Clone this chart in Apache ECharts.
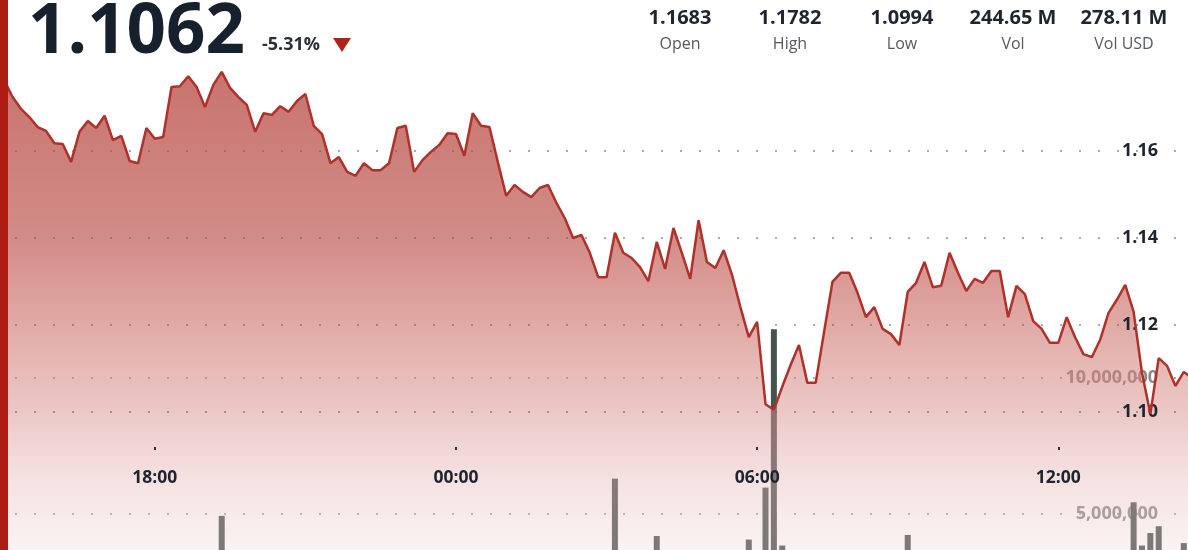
<!DOCTYPE html>
<html>
<head>
<meta charset="utf-8">
<script src="https://cdn.jsdelivr.net/npm/echarts@6/dist/echarts.min.js"></script>
<style>
  html, body { margin: 0; padding: 0; background: #fff; }
  #chart { width: 1188px; height: 550px; }
</style>
</head>
<body>
<div id="chart"></div>
<script>
const FONT = '"Open Sans", "Noto Sans", sans-serif';

// price samples every 10 minutes, first one at 15:00
const STEP_MIN = 10;
const prices = [
  1.1763, 1.1724, 1.1697, 1.1678, 1.1655, 1.1646, 1.1618, 1.1616, 1.1575, 1.1644,
  1.1669, 1.1653, 1.1681, 1.1625, 1.1635, 1.1577, 1.1572, 1.1653, 1.1628, 1.1632,
  1.1747, 1.1749, 1.1772, 1.1747, 1.1701, 1.1752, 1.1782, 1.1745, 1.1724, 1.1706,
  1.1644, 1.1687, 1.1683, 1.1703, 1.1690, 1.1715, 1.1731, 1.1658, 1.1639, 1.1572,
  1.1586, 1.1552, 1.1543, 1.1572, 1.1556, 1.1556, 1.1572, 1.1653, 1.1658, 1.1552,
  1.1579, 1.1598, 1.1614, 1.1641, 1.1639, 1.1589, 1.1687, 1.1658, 1.1655, 1.1575,
  1.1497, 1.1522, 1.1506, 1.1494, 1.1515, 1.1522, 1.1481, 1.1446, 1.1400, 1.1407,
  1.1366, 1.1310, 1.1310, 1.1412, 1.1366, 1.1354, 1.1333, 1.1301, 1.1391, 1.1329,
  1.1423, 1.1366, 1.1306, 1.1441, 1.1345, 1.1331, 1.1372, 1.1315, 1.1241, 1.1172,
  1.1207, 1.1018, 1.1005, 1.1058, 1.1108, 1.1154, 1.1067, 1.1067, 1.1184, 1.1299,
  1.1320, 1.1320, 1.1274, 1.1218, 1.1241, 1.1191, 1.1179, 1.1154, 1.1276, 1.1297,
  1.1345, 1.1287, 1.1290, 1.1366, 1.1320, 1.1278, 1.1306, 1.1297, 1.1324, 1.1324,
  1.1218, 1.1290, 1.1271, 1.1209, 1.1191, 1.1159, 1.1159, 1.1218, 1.1172, 1.1133,
  1.1126, 1.1166, 1.1228, 1.1258, 1.1292, 1.1230, 1.1090, 1.0996, 1.1124, 1.1106,
  1.1060, 1.1092, 1.1078
];

// volume bars (minutes after 15:00) - only the tall ones reach into view
const volMinutes = [260, 730, 780, 890, 910, 920, 930, 1080, 1350, 1360, 1370, 1380, 1410];
const volValues  = [4930000, 6300000, 4190000, 4060000, 5970000, 11790000, 3840000, 4230000,
                    5430000, 3840000, 4300000, 4550000, 3930000];

const timeTicks  = [180, 540, 900, 1260];
const timeLabels = ["18:00", "00:00", "06:00", "12:00"];
const priceTicks = [1.10, 1.12, 1.14, 1.16];
const volTicks   = [5000000, 10000000];

const lastPrice  = "1.1062";
const changePct  = "-5.31%";
const statValues = ["1.1683", "1.1782", "1.0994", "244.65 M", "278.11 M"];
const statLabels = ["Open", "High", "Low", "Vol", "Vol USD"];
const statX = [680, 790, 902, 1013, 1124];

const dotted = { color: "rgba(100,100,100,0.55)", width: 2, type: [2, 17], dashOffset: 4 };
const priceData = prices.map((p, i) => [i * STEP_MIN, p]);

const graphic = [
  { type: "rect", z: 100, shape: { x: 0, y: 0, width: 8, height: 550 }, style: { fill: "#ad1d13" } },
  { type: "text", x: 28, y: 33, style: { text: lastPrice, font: `bold 69px ${FONT}`, fill: "#17202d",
      textVerticalAlign: "middle", verticalAlign: "middle" } },
  { type: "text", x: 262, y: 45, style: { text: changePct, font: `bold 18px ${FONT}`, fill: "#2a2f38",
      textVerticalAlign: "middle", verticalAlign: "middle" } },
  { type: "polygon", shape: { points: [[333, 38], [351, 38], [342, 52]] }, style: { fill: "#b0211a" } }
];
statValues.forEach((v, i) => {
  graphic.push({ type: "text", x: statX[i], y: 18, style: { text: v, font: `bold 20px ${FONT}`, fill: "#1e2530",
    textAlign: "center", align: "center", textVerticalAlign: "middle", verticalAlign: "middle" } });
  graphic.push({ type: "text", x: statX[i], y: 44, style: { text: statLabels[i], font: `16px ${FONT}`, fill: "#555a60",
    textAlign: "center", align: "center", textVerticalAlign: "middle", verticalAlign: "middle" } });
});

const chart = echarts.init(document.getElementById("chart"));
chart.setOption({
  animation: false,
  backgroundColor: "#fff",
  textStyle: { fontFamily: FONT },
  grid: { left: 0, right: 0, top: 0, bottom: 0 },
  xAxis: {
    type: "value", min: -5, max: 1415, position: "bottom", offset: -103, z: 3,
    axisLine: { show: false },
    axisTick: { show: true, length: 3, customValues: timeTicks, lineStyle: { color: "#333", width: 2 } },
    axisLabel: { customValues: timeTicks, margin: 22, color: "#1e2530", fontWeight: "bold", fontSize: 17.5,
      fontFamily: FONT, formatter: v => timeLabels[timeTicks.indexOf(v)] || "" },
    splitLine: { show: false }
  },
  yAxis: [
    {
      type: "value", position: "right", min: 1.068276, max: 1.194713, z: 3,
      axisLine: { show: false }, axisTick: { show: false, customValues: priceTicks },
      axisLabel: { inside: true, margin: 30, customValues: priceTicks, color: "#1e2530", fontWeight: "bold",
        fontSize: 18, fontFamily: FONT, formatter: v => v.toFixed(2) },
      splitLine: { show: true, lineStyle: dotted }
    },
    {
      type: "value", position: "right", min: 3676000, max: 23897000, z: 0,
      axisLine: { show: false }, axisTick: { show: false, customValues: volTicks },
      axisLabel: { inside: true, margin: 30, customValues: volTicks, color: "#8c8888", fontWeight: "bold",
        fontSize: 18, fontFamily: FONT, formatter: v => v.toLocaleString("en-US") },
      splitLine: { show: true, lineStyle: dotted }
    }
  ],
  series: [
    {
      type: "bar", yAxisIndex: 1, z: 1, barWidth: 6,
      data: volMinutes.map((m, i) => [m, volValues[i]]),
      itemStyle: { color: "#48514d" }
    },
    {
      // gradient fill under the price
      type: "line", yAxisIndex: 0, z: 2, symbol: "none", silent: true,
      data: priceData,
      lineStyle: { width: 0 },
      areaStyle: {
        opacity: 1,
        color: {
          type: "linear", x: 0, y: 0, x2: 0, y2: 1,
          colorStops: [
            { offset: 0, color: "rgba(186,80,74,0.8)" },
            { offset: 0.35, color: "rgba(191,91,84,0.7)" },
            { offset: 0.53, color: "rgba(205,113,105,0.6)" },
            { offset: 0.71, color: "rgba(215,145,141,0.5)" },
            { offset: 0.85, color: "rgba(230,180,180,0.4)" },
            { offset: 1, color: "rgba(238,212,212,0.3)" }
          ]
        }
      }
    },
    {
      type: "line", yAxisIndex: 0, z: 4, symbol: "none",
      data: priceData,
      lineStyle: { color: "#b0302a", width: 2.5 }
    }
  ],
  graphic
});
</script>
</body>
</html>
